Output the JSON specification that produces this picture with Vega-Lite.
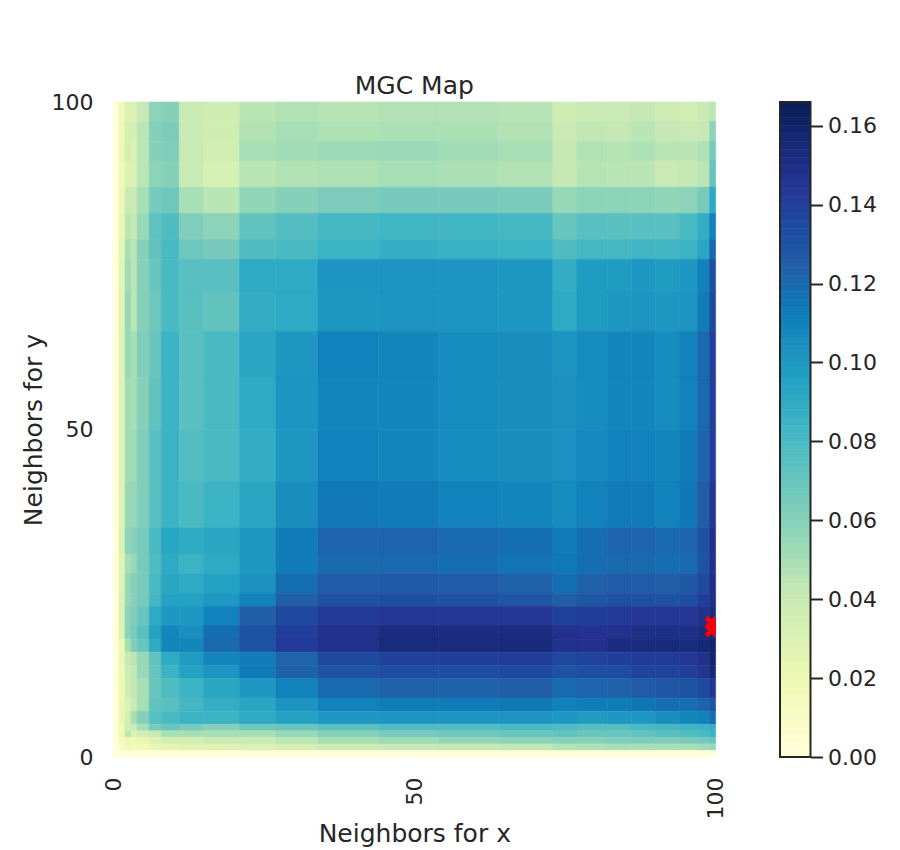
{"$schema":"https://vega.github.io/schema/vega-lite/v6.json","background":"white","padding":{"left":21,"top":74,"right":5,"bottom":5},"config":{"font":"DejaVu Sans","view":{"stroke":null},"axis":{"grid":false,"domain":false,"labelColor":"#262626","titleColor":"#262626","labelFont":"DejaVu Sans","titleFont":"DejaVu Sans","labelFontSize":22,"titleFontSize":25,"titleFontWeight":"normal"},"title":{"font":"DejaVu Sans","fontSize":25,"fontWeight":"normal","color":"#262626"}},"spacing":52,"hconcat":[{"width":602.6,"height":655,"title":{"text":"MGC Map","offset":-8},"layer":[{"data":{"values":[
{"x":0,"X":1,"y":97,"Y":100,"v":0},{"x":1,"X":2,"y":97,"Y":100,"v":0.018},{"x":2,"X":3,"y":97,"Y":100,"v":0.03},{"x":3,"X":4,"y":97,"Y":100,"v":0.03},{"x":4,"X":6,"y":97,"Y":100,"v":0.04},{"x":6,"X":8,"y":97,"Y":100,"v":0.058},{"x":8,"X":11,"y":97,"Y":100,"v":0.06},{"x":11,"X":15,"y":97,"Y":100,"v":0.04},{"x":15,"X":21,"y":97,"Y":100,"v":0.037},{"x":21,"X":27,"y":97,"Y":100,"v":0.045},{"x":27,"X":34,"y":97,"Y":100,"v":0.047},{"x":34,"X":44,"y":97,"Y":100,"v":0.046},{"x":44,"X":54,"y":97,"Y":100,"v":0.047},{"x":54,"X":64,"y":97,"Y":100,"v":0.047},{"x":64,"X":73,"y":97,"Y":100,"v":0.046},{"x":73,"X":77,"y":97,"Y":100,"v":0.037},{"x":77,"X":82,"y":97,"Y":100,"v":0.04},{"x":82,"X":86,"y":97,"Y":100,"v":0.04},{"x":86,"X":90,"y":97,"Y":100,"v":0.042},{"x":90,"X":94,"y":97,"Y":100,"v":0.038},{"x":94,"X":97,"y":97,"Y":100,"v":0.036},{"x":97,"X":99,"y":97,"Y":100,"v":0.04},{"x":99,"X":100,"y":97,"Y":100,"v":0.045},
{"x":0,"X":1,"y":94,"Y":97,"v":0},{"x":1,"X":2,"y":94,"Y":97,"v":0.02},{"x":2,"X":3,"y":94,"Y":97,"v":0.034},{"x":3,"X":4,"y":94,"Y":97,"v":0.034},{"x":4,"X":6,"y":94,"Y":97,"v":0.045},{"x":6,"X":8,"y":94,"Y":97,"v":0.06},{"x":8,"X":11,"y":94,"Y":97,"v":0.063},{"x":11,"X":15,"y":94,"Y":97,"v":0.04},{"x":15,"X":21,"y":94,"Y":97,"v":0.037},{"x":21,"X":27,"y":94,"Y":97,"v":0.047},{"x":27,"X":34,"y":94,"Y":97,"v":0.05},{"x":34,"X":44,"y":94,"Y":97,"v":0.048},{"x":44,"X":54,"y":94,"Y":97,"v":0.049},{"x":54,"X":64,"y":94,"Y":97,"v":0.049},{"x":64,"X":73,"y":94,"Y":97,"v":0.047},{"x":73,"X":77,"y":94,"Y":97,"v":0.04},{"x":77,"X":82,"y":94,"Y":97,"v":0.043},{"x":82,"X":86,"y":94,"Y":97,"v":0.042},{"x":86,"X":90,"y":94,"Y":97,"v":0.045},{"x":90,"X":94,"y":94,"Y":97,"v":0.042},{"x":94,"X":97,"y":94,"Y":97,"v":0.04},{"x":97,"X":99,"y":94,"Y":97,"v":0.042},{"x":99,"X":100,"y":94,"Y":97,"v":0.058},
{"x":0,"X":1,"y":91,"Y":94,"v":0},{"x":1,"X":2,"y":91,"Y":94,"v":0.02},{"x":2,"X":3,"y":91,"Y":94,"v":0.035},{"x":3,"X":4,"y":91,"Y":94,"v":0.03},{"x":4,"X":6,"y":91,"Y":94,"v":0.045},{"x":6,"X":8,"y":91,"Y":94,"v":0.06},{"x":8,"X":11,"y":91,"Y":94,"v":0.062},{"x":11,"X":15,"y":91,"Y":94,"v":0.04},{"x":15,"X":21,"y":91,"Y":94,"v":0.036},{"x":21,"X":27,"y":91,"Y":94,"v":0.05},{"x":27,"X":34,"y":91,"Y":94,"v":0.052},{"x":34,"X":44,"y":91,"Y":94,"v":0.053},{"x":44,"X":54,"y":91,"Y":94,"v":0.054},{"x":54,"X":64,"y":91,"Y":94,"v":0.052},{"x":64,"X":73,"y":91,"Y":94,"v":0.05},{"x":73,"X":77,"y":91,"Y":94,"v":0.042},{"x":77,"X":82,"y":91,"Y":94,"v":0.047},{"x":82,"X":86,"y":91,"Y":94,"v":0.046},{"x":86,"X":90,"y":91,"Y":94,"v":0.048},{"x":90,"X":94,"y":91,"Y":94,"v":0.045},{"x":94,"X":97,"y":91,"Y":94,"v":0.045},{"x":97,"X":99,"y":91,"Y":94,"v":0.048},{"x":99,"X":100,"y":91,"Y":94,"v":0.065},
{"x":0,"X":1,"y":87,"Y":91,"v":0},{"x":1,"X":2,"y":87,"Y":91,"v":0.018},{"x":2,"X":3,"y":87,"Y":91,"v":0.03},{"x":3,"X":4,"y":87,"Y":91,"v":0.03},{"x":4,"X":6,"y":87,"Y":91,"v":0.045},{"x":6,"X":8,"y":87,"Y":91,"v":0.058},{"x":8,"X":11,"y":87,"Y":91,"v":0.06},{"x":11,"X":15,"y":87,"Y":91,"v":0.04},{"x":15,"X":21,"y":87,"Y":91,"v":0.033},{"x":21,"X":27,"y":87,"Y":91,"v":0.045},{"x":27,"X":34,"y":87,"Y":91,"v":0.047},{"x":34,"X":44,"y":87,"Y":91,"v":0.048},{"x":44,"X":54,"y":87,"Y":91,"v":0.05},{"x":54,"X":64,"y":87,"Y":91,"v":0.049},{"x":64,"X":73,"y":87,"Y":91,"v":0.047},{"x":73,"X":77,"y":87,"Y":91,"v":0.042},{"x":77,"X":82,"y":87,"Y":91,"v":0.046},{"x":82,"X":86,"y":87,"Y":91,"v":0.045},{"x":86,"X":90,"y":87,"Y":91,"v":0.045},{"x":90,"X":94,"y":87,"Y":91,"v":0.04},{"x":94,"X":97,"y":87,"Y":91,"v":0.042},{"x":97,"X":99,"y":87,"Y":91,"v":0.045},{"x":99,"X":100,"y":87,"Y":91,"v":0.07},
{"x":0,"X":1,"y":83,"Y":87,"v":0},{"x":1,"X":2,"y":83,"Y":87,"v":0.02},{"x":2,"X":3,"y":83,"Y":87,"v":0.04},{"x":3,"X":4,"y":83,"Y":87,"v":0.04},{"x":4,"X":6,"y":83,"Y":87,"v":0.05},{"x":6,"X":8,"y":83,"Y":87,"v":0.065},{"x":8,"X":11,"y":83,"Y":87,"v":0.068},{"x":11,"X":15,"y":83,"Y":87,"v":0.05},{"x":15,"X":21,"y":83,"Y":87,"v":0.045},{"x":21,"X":27,"y":83,"Y":87,"v":0.056},{"x":27,"X":34,"y":83,"Y":87,"v":0.06},{"x":34,"X":44,"y":83,"Y":87,"v":0.063},{"x":44,"X":54,"y":83,"Y":87,"v":0.065},{"x":54,"X":64,"y":83,"Y":87,"v":0.065},{"x":64,"X":73,"y":83,"Y":87,"v":0.064},{"x":73,"X":77,"y":83,"Y":87,"v":0.055},{"x":77,"X":82,"y":83,"Y":87,"v":0.058},{"x":82,"X":86,"y":83,"Y":87,"v":0.058},{"x":86,"X":90,"y":83,"Y":87,"v":0.058},{"x":90,"X":94,"y":83,"Y":87,"v":0.056},{"x":94,"X":97,"y":83,"Y":87,"v":0.058},{"x":97,"X":99,"y":83,"Y":87,"v":0.065},{"x":99,"X":100,"y":83,"Y":87,"v":0.09},
{"x":0,"X":1,"y":79,"Y":83,"v":0},{"x":1,"X":2,"y":79,"Y":83,"v":0.022},{"x":2,"X":3,"y":79,"Y":83,"v":0.045},{"x":3,"X":4,"y":79,"Y":83,"v":0.042},{"x":4,"X":6,"y":79,"Y":83,"v":0.055},{"x":6,"X":8,"y":79,"Y":83,"v":0.073},{"x":8,"X":11,"y":79,"Y":83,"v":0.078},{"x":11,"X":15,"y":79,"Y":83,"v":0.062},{"x":15,"X":21,"y":79,"Y":83,"v":0.058},{"x":21,"X":27,"y":79,"Y":83,"v":0.072},{"x":27,"X":34,"y":79,"Y":83,"v":0.077},{"x":34,"X":44,"y":79,"Y":83,"v":0.082},{"x":44,"X":54,"y":79,"Y":83,"v":0.083},{"x":54,"X":64,"y":79,"Y":83,"v":0.083},{"x":64,"X":73,"y":79,"Y":83,"v":0.082},{"x":73,"X":77,"y":79,"Y":83,"v":0.07},{"x":77,"X":82,"y":79,"Y":83,"v":0.075},{"x":82,"X":86,"y":79,"Y":83,"v":0.074},{"x":86,"X":90,"y":79,"Y":83,"v":0.075},{"x":90,"X":94,"y":79,"Y":83,"v":0.075},{"x":94,"X":97,"y":79,"Y":83,"v":0.08},{"x":97,"X":99,"y":79,"Y":83,"v":0.088},{"x":99,"X":100,"y":79,"Y":83,"v":0.11},
{"x":0,"X":1,"y":76,"Y":79,"v":0},{"x":1,"X":2,"y":76,"Y":79,"v":0.025},{"x":2,"X":3,"y":76,"Y":79,"v":0.05},{"x":3,"X":4,"y":76,"Y":79,"v":0.045},{"x":4,"X":6,"y":76,"Y":79,"v":0.06},{"x":6,"X":8,"y":76,"Y":79,"v":0.072},{"x":8,"X":11,"y":76,"Y":79,"v":0.08},{"x":11,"X":15,"y":76,"Y":79,"v":0.068},{"x":15,"X":21,"y":76,"Y":79,"v":0.065},{"x":21,"X":27,"y":76,"Y":79,"v":0.078},{"x":27,"X":34,"y":76,"Y":79,"v":0.08},{"x":34,"X":44,"y":76,"Y":79,"v":0.085},{"x":44,"X":54,"y":76,"Y":79,"v":0.087},{"x":54,"X":64,"y":76,"Y":79,"v":0.086},{"x":64,"X":73,"y":76,"Y":79,"v":0.085},{"x":73,"X":77,"y":76,"Y":79,"v":0.078},{"x":77,"X":82,"y":76,"Y":79,"v":0.082},{"x":82,"X":86,"y":76,"Y":79,"v":0.082},{"x":86,"X":90,"y":76,"Y":79,"v":0.083},{"x":90,"X":94,"y":76,"Y":79,"v":0.083},{"x":94,"X":97,"y":76,"Y":79,"v":0.085},{"x":97,"X":99,"y":76,"Y":79,"v":0.092},{"x":99,"X":100,"y":76,"Y":79,"v":0.12},
{"x":0,"X":1,"y":71,"Y":76,"v":0},{"x":1,"X":2,"y":71,"Y":76,"v":0.026},{"x":2,"X":3,"y":71,"Y":76,"v":0.052},{"x":3,"X":4,"y":71,"Y":76,"v":0.045},{"x":4,"X":6,"y":71,"Y":76,"v":0.06},{"x":6,"X":8,"y":71,"Y":76,"v":0.07},{"x":8,"X":11,"y":71,"Y":76,"v":0.08},{"x":11,"X":15,"y":71,"Y":76,"v":0.075},{"x":15,"X":21,"y":71,"Y":76,"v":0.075},{"x":21,"X":27,"y":71,"Y":76,"v":0.09},{"x":27,"X":34,"y":71,"Y":76,"v":0.09},{"x":34,"X":44,"y":71,"Y":76,"v":0.102},{"x":44,"X":54,"y":71,"Y":76,"v":0.102},{"x":54,"X":64,"y":71,"Y":76,"v":0.102},{"x":64,"X":73,"y":71,"Y":76,"v":0.1},{"x":73,"X":77,"y":71,"Y":76,"v":0.088},{"x":77,"X":82,"y":71,"Y":76,"v":0.098},{"x":82,"X":86,"y":71,"Y":76,"v":0.098},{"x":86,"X":90,"y":71,"Y":76,"v":0.1},{"x":90,"X":94,"y":71,"Y":76,"v":0.098},{"x":94,"X":97,"y":71,"Y":76,"v":0.1},{"x":97,"X":99,"y":71,"Y":76,"v":0.11},{"x":99,"X":100,"y":71,"Y":76,"v":0.132},
{"x":0,"X":1,"y":65,"Y":71,"v":0},{"x":1,"X":2,"y":65,"Y":71,"v":0.027},{"x":2,"X":3,"y":65,"Y":71,"v":0.055},{"x":3,"X":4,"y":65,"Y":71,"v":0.045},{"x":4,"X":6,"y":65,"Y":71,"v":0.06},{"x":6,"X":8,"y":65,"Y":71,"v":0.068},{"x":8,"X":11,"y":65,"Y":71,"v":0.08},{"x":11,"X":15,"y":65,"Y":71,"v":0.075},{"x":15,"X":21,"y":65,"Y":71,"v":0.072},{"x":21,"X":27,"y":65,"Y":71,"v":0.088},{"x":27,"X":34,"y":65,"Y":71,"v":0.09},{"x":34,"X":44,"y":65,"Y":71,"v":0.1},{"x":44,"X":54,"y":65,"Y":71,"v":0.102},{"x":54,"X":64,"y":65,"Y":71,"v":0.102},{"x":64,"X":73,"y":65,"Y":71,"v":0.1},{"x":73,"X":77,"y":65,"Y":71,"v":0.09},{"x":77,"X":82,"y":65,"Y":71,"v":0.098},{"x":82,"X":86,"y":65,"Y":71,"v":0.1},{"x":86,"X":90,"y":65,"Y":71,"v":0.102},{"x":90,"X":94,"y":65,"Y":71,"v":0.1},{"x":94,"X":97,"y":65,"Y":71,"v":0.102},{"x":97,"X":99,"y":65,"Y":71,"v":0.112},{"x":99,"X":100,"y":65,"Y":71,"v":0.135},
{"x":0,"X":1,"y":58,"Y":65,"v":0},{"x":1,"X":2,"y":58,"Y":65,"v":0.028},{"x":2,"X":3,"y":58,"Y":65,"v":0.055},{"x":3,"X":4,"y":58,"Y":65,"v":0.05},{"x":4,"X":6,"y":58,"Y":65,"v":0.062},{"x":6,"X":8,"y":58,"Y":65,"v":0.07},{"x":8,"X":11,"y":58,"Y":65,"v":0.085},{"x":11,"X":15,"y":58,"Y":65,"v":0.075},{"x":15,"X":21,"y":58,"Y":65,"v":0.08},{"x":21,"X":27,"y":58,"Y":65,"v":0.092},{"x":27,"X":34,"y":58,"Y":65,"v":0.1},{"x":34,"X":44,"y":58,"Y":65,"v":0.11},{"x":44,"X":54,"y":58,"Y":65,"v":0.108},{"x":54,"X":64,"y":58,"Y":65,"v":0.106},{"x":64,"X":73,"y":58,"Y":65,"v":0.105},{"x":73,"X":77,"y":58,"Y":65,"v":0.102},{"x":77,"X":82,"y":58,"Y":65,"v":0.106},{"x":82,"X":86,"y":58,"Y":65,"v":0.108},{"x":86,"X":90,"y":58,"Y":65,"v":0.108},{"x":90,"X":94,"y":58,"Y":65,"v":0.106},{"x":94,"X":97,"y":58,"Y":65,"v":0.11},{"x":97,"X":99,"y":58,"Y":65,"v":0.12},{"x":99,"X":100,"y":58,"Y":65,"v":0.14},
{"x":0,"X":1,"y":50,"Y":58,"v":0},{"x":1,"X":2,"y":50,"Y":58,"v":0.028},{"x":2,"X":3,"y":50,"Y":58,"v":0.052},{"x":3,"X":4,"y":50,"Y":58,"v":0.05},{"x":4,"X":6,"y":50,"Y":58,"v":0.06},{"x":6,"X":8,"y":50,"Y":58,"v":0.072},{"x":8,"X":11,"y":50,"Y":58,"v":0.085},{"x":11,"X":15,"y":50,"Y":58,"v":0.075},{"x":15,"X":21,"y":50,"Y":58,"v":0.08},{"x":21,"X":27,"y":50,"Y":58,"v":0.09},{"x":27,"X":34,"y":50,"Y":58,"v":0.102},{"x":34,"X":44,"y":50,"Y":58,"v":0.108},{"x":44,"X":54,"y":50,"Y":58,"v":0.108},{"x":54,"X":64,"y":50,"Y":58,"v":0.106},{"x":64,"X":73,"y":50,"Y":58,"v":0.105},{"x":73,"X":77,"y":50,"Y":58,"v":0.104},{"x":77,"X":82,"y":50,"Y":58,"v":0.106},{"x":82,"X":86,"y":50,"Y":58,"v":0.108},{"x":86,"X":90,"y":50,"Y":58,"v":0.108},{"x":90,"X":94,"y":50,"Y":58,"v":0.106},{"x":94,"X":97,"y":50,"Y":58,"v":0.11},{"x":97,"X":99,"y":50,"Y":58,"v":0.12},{"x":99,"X":100,"y":50,"Y":58,"v":0.14},
{"x":0,"X":1,"y":42,"Y":50,"v":0},{"x":1,"X":2,"y":42,"Y":50,"v":0.028},{"x":2,"X":3,"y":42,"Y":50,"v":0.052},{"x":3,"X":4,"y":42,"Y":50,"v":0.052},{"x":4,"X":6,"y":42,"Y":50,"v":0.062},{"x":6,"X":8,"y":42,"Y":50,"v":0.075},{"x":8,"X":11,"y":42,"Y":50,"v":0.085},{"x":11,"X":15,"y":42,"Y":50,"v":0.077},{"x":15,"X":21,"y":42,"Y":50,"v":0.08},{"x":21,"X":27,"y":42,"Y":50,"v":0.088},{"x":27,"X":34,"y":42,"Y":50,"v":0.1},{"x":34,"X":44,"y":42,"Y":50,"v":0.11},{"x":44,"X":54,"y":42,"Y":50,"v":0.108},{"x":54,"X":64,"y":42,"Y":50,"v":0.106},{"x":64,"X":73,"y":42,"Y":50,"v":0.105},{"x":73,"X":77,"y":42,"Y":50,"v":0.104},{"x":77,"X":82,"y":42,"Y":50,"v":0.107},{"x":82,"X":86,"y":42,"Y":50,"v":0.11},{"x":86,"X":90,"y":42,"Y":50,"v":0.11},{"x":90,"X":94,"y":42,"Y":50,"v":0.108},{"x":94,"X":97,"y":42,"Y":50,"v":0.112},{"x":97,"X":99,"y":42,"Y":50,"v":0.122},{"x":99,"X":100,"y":42,"Y":50,"v":0.14},
{"x":0,"X":1,"y":35,"Y":42,"v":0},{"x":1,"X":2,"y":35,"Y":42,"v":0.028},{"x":2,"X":3,"y":35,"Y":42,"v":0.055},{"x":3,"X":4,"y":35,"Y":42,"v":0.055},{"x":4,"X":6,"y":35,"Y":42,"v":0.062},{"x":6,"X":8,"y":35,"Y":42,"v":0.075},{"x":8,"X":11,"y":35,"Y":42,"v":0.085},{"x":11,"X":15,"y":35,"Y":42,"v":0.08},{"x":15,"X":21,"y":35,"Y":42,"v":0.085},{"x":21,"X":27,"y":35,"Y":42,"v":0.092},{"x":27,"X":34,"y":35,"Y":42,"v":0.105},{"x":34,"X":44,"y":35,"Y":42,"v":0.114},{"x":44,"X":54,"y":35,"Y":42,"v":0.113},{"x":54,"X":64,"y":35,"Y":42,"v":0.11},{"x":64,"X":73,"y":35,"Y":42,"v":0.108},{"x":73,"X":77,"y":35,"Y":42,"v":0.106},{"x":77,"X":82,"y":35,"Y":42,"v":0.11},{"x":82,"X":86,"y":35,"Y":42,"v":0.113},{"x":86,"X":90,"y":35,"Y":42,"v":0.113},{"x":90,"X":94,"y":35,"Y":42,"v":0.11},{"x":94,"X":97,"y":35,"Y":42,"v":0.115},{"x":97,"X":99,"y":35,"Y":42,"v":0.125},{"x":99,"X":100,"y":35,"Y":42,"v":0.145},
{"x":0,"X":1,"y":31,"Y":35,"v":0},{"x":1,"X":2,"y":31,"Y":35,"v":0.03},{"x":2,"X":3,"y":31,"Y":35,"v":0.058},{"x":3,"X":4,"y":31,"Y":35,"v":0.06},{"x":4,"X":6,"y":31,"Y":35,"v":0.065},{"x":6,"X":8,"y":31,"Y":35,"v":0.08},{"x":8,"X":11,"y":31,"Y":35,"v":0.093},{"x":11,"X":15,"y":31,"Y":35,"v":0.09},{"x":15,"X":21,"y":31,"Y":35,"v":0.092},{"x":21,"X":27,"y":31,"Y":35,"v":0.1},{"x":27,"X":34,"y":31,"Y":35,"v":0.112},{"x":34,"X":44,"y":31,"Y":35,"v":0.122},{"x":44,"X":54,"y":31,"Y":35,"v":0.122},{"x":54,"X":64,"y":31,"Y":35,"v":0.12},{"x":64,"X":73,"y":31,"Y":35,"v":0.118},{"x":73,"X":77,"y":31,"Y":35,"v":0.112},{"x":77,"X":82,"y":31,"Y":35,"v":0.118},{"x":82,"X":86,"y":31,"Y":35,"v":0.122},{"x":86,"X":90,"y":31,"Y":35,"v":0.122},{"x":90,"X":94,"y":31,"Y":35,"v":0.12},{"x":94,"X":97,"y":31,"Y":35,"v":0.122},{"x":97,"X":99,"y":31,"Y":35,"v":0.13},{"x":99,"X":100,"y":31,"Y":35,"v":0.148},
{"x":0,"X":1,"y":28,"Y":31,"v":0},{"x":1,"X":2,"y":28,"Y":31,"v":0.028},{"x":2,"X":3,"y":28,"Y":31,"v":0.05},{"x":3,"X":4,"y":28,"Y":31,"v":0.055},{"x":4,"X":6,"y":28,"Y":31,"v":0.065},{"x":6,"X":8,"y":28,"Y":31,"v":0.078},{"x":8,"X":11,"y":28,"Y":31,"v":0.09},{"x":11,"X":15,"y":28,"Y":31,"v":0.085},{"x":15,"X":21,"y":28,"Y":31,"v":0.09},{"x":21,"X":27,"y":28,"Y":31,"v":0.1},{"x":27,"X":34,"y":28,"Y":31,"v":0.112},{"x":34,"X":44,"y":28,"Y":31,"v":0.12},{"x":44,"X":54,"y":28,"Y":31,"v":0.12},{"x":54,"X":64,"y":28,"Y":31,"v":0.118},{"x":64,"X":73,"y":28,"Y":31,"v":0.116},{"x":73,"X":77,"y":28,"Y":31,"v":0.114},{"x":77,"X":82,"y":28,"Y":31,"v":0.118},{"x":82,"X":86,"y":28,"Y":31,"v":0.12},{"x":86,"X":90,"y":28,"Y":31,"v":0.12},{"x":90,"X":94,"y":28,"Y":31,"v":0.118},{"x":94,"X":97,"y":28,"Y":31,"v":0.12},{"x":97,"X":99,"y":28,"Y":31,"v":0.13},{"x":99,"X":100,"y":28,"Y":31,"v":0.148},
{"x":0,"X":1,"y":25,"Y":28,"v":0},{"x":1,"X":2,"y":25,"Y":28,"v":0.028},{"x":2,"X":3,"y":25,"Y":28,"v":0.055},{"x":3,"X":4,"y":25,"Y":28,"v":0.06},{"x":4,"X":6,"y":25,"Y":28,"v":0.065},{"x":6,"X":8,"y":25,"Y":28,"v":0.08},{"x":8,"X":11,"y":25,"Y":28,"v":0.092},{"x":11,"X":15,"y":25,"Y":28,"v":0.09},{"x":15,"X":21,"y":25,"Y":28,"v":0.095},{"x":21,"X":27,"y":25,"Y":28,"v":0.103},{"x":27,"X":34,"y":25,"Y":28,"v":0.118},{"x":34,"X":44,"y":25,"Y":28,"v":0.126},{"x":44,"X":54,"y":25,"Y":28,"v":0.127},{"x":54,"X":64,"y":25,"Y":28,"v":0.126},{"x":64,"X":73,"y":25,"Y":28,"v":0.123},{"x":73,"X":77,"y":25,"Y":28,"v":0.118},{"x":77,"X":82,"y":25,"Y":28,"v":0.123},{"x":82,"X":86,"y":25,"Y":28,"v":0.126},{"x":86,"X":90,"y":25,"Y":28,"v":0.126},{"x":90,"X":94,"y":25,"Y":28,"v":0.125},{"x":94,"X":97,"y":25,"Y":28,"v":0.128},{"x":97,"X":99,"y":25,"Y":28,"v":0.135},{"x":99,"X":100,"y":25,"Y":28,"v":0.15},
{"x":0,"X":1,"y":23,"Y":25,"v":0},{"x":1,"X":2,"y":23,"Y":25,"v":0.03},{"x":2,"X":3,"y":23,"Y":25,"v":0.055},{"x":3,"X":4,"y":23,"Y":25,"v":0.06},{"x":4,"X":6,"y":23,"Y":25,"v":0.065},{"x":6,"X":8,"y":23,"Y":25,"v":0.082},{"x":8,"X":11,"y":23,"Y":25,"v":0.095},{"x":11,"X":15,"y":23,"Y":25,"v":0.095},{"x":15,"X":21,"y":23,"Y":25,"v":0.1},{"x":21,"X":27,"y":23,"Y":25,"v":0.11},{"x":27,"X":34,"y":23,"Y":25,"v":0.124},{"x":34,"X":44,"y":23,"Y":25,"v":0.131},{"x":44,"X":54,"y":23,"Y":25,"v":0.132},{"x":54,"X":64,"y":23,"Y":25,"v":0.131},{"x":64,"X":73,"y":23,"Y":25,"v":0.129},{"x":73,"X":77,"y":23,"Y":25,"v":0.124},{"x":77,"X":82,"y":23,"Y":25,"v":0.128},{"x":82,"X":86,"y":23,"Y":25,"v":0.131},{"x":86,"X":90,"y":23,"Y":25,"v":0.131},{"x":90,"X":94,"y":23,"Y":25,"v":0.13},{"x":94,"X":97,"y":23,"Y":25,"v":0.133},{"x":97,"X":99,"y":23,"Y":25,"v":0.14},{"x":99,"X":100,"y":23,"Y":25,"v":0.15},
{"x":0,"X":1,"y":20,"Y":23,"v":0},{"x":1,"X":2,"y":20,"Y":23,"v":0.03},{"x":2,"X":3,"y":20,"Y":23,"v":0.058},{"x":3,"X":4,"y":20,"Y":23,"v":0.062},{"x":4,"X":6,"y":20,"Y":23,"v":0.07},{"x":6,"X":8,"y":20,"Y":23,"v":0.09},{"x":8,"X":11,"y":20,"Y":23,"v":0.1},{"x":11,"X":15,"y":20,"Y":23,"v":0.1},{"x":15,"X":21,"y":20,"Y":23,"v":0.11},{"x":21,"X":27,"y":20,"Y":23,"v":0.124},{"x":27,"X":34,"y":20,"Y":23,"v":0.136},{"x":34,"X":44,"y":20,"Y":23,"v":0.143},{"x":44,"X":54,"y":20,"Y":23,"v":0.144},{"x":54,"X":64,"y":20,"Y":23,"v":0.145},{"x":64,"X":73,"y":20,"Y":23,"v":0.144},{"x":73,"X":77,"y":20,"Y":23,"v":0.139},{"x":77,"X":82,"y":20,"Y":23,"v":0.14},{"x":82,"X":86,"y":20,"Y":23,"v":0.143},{"x":86,"X":90,"y":20,"Y":23,"v":0.144},{"x":90,"X":94,"y":20,"Y":23,"v":0.144},{"x":94,"X":97,"y":20,"Y":23,"v":0.145},{"x":97,"X":99,"y":20,"Y":23,"v":0.148},{"x":99,"X":100,"y":20,"Y":23,"v":0.153},
{"x":0,"X":1,"y":18,"Y":20,"v":0},{"x":1,"X":2,"y":18,"Y":20,"v":0.028},{"x":2,"X":3,"y":18,"Y":20,"v":0.058},{"x":3,"X":4,"y":18,"Y":20,"v":0.065},{"x":4,"X":6,"y":18,"Y":20,"v":0.075},{"x":6,"X":8,"y":18,"Y":20,"v":0.095},{"x":8,"X":11,"y":18,"Y":20,"v":0.108},{"x":11,"X":15,"y":18,"Y":20,"v":0.105},{"x":15,"X":21,"y":18,"Y":20,"v":0.118},{"x":21,"X":27,"y":18,"Y":20,"v":0.13},{"x":27,"X":34,"y":18,"Y":20,"v":0.14},{"x":34,"X":44,"y":18,"Y":20,"v":0.148},{"x":44,"X":54,"y":18,"Y":20,"v":0.152},{"x":54,"X":64,"y":18,"Y":20,"v":0.152},{"x":64,"X":73,"y":18,"Y":20,"v":0.152},{"x":73,"X":77,"y":18,"Y":20,"v":0.148},{"x":77,"X":82,"y":18,"Y":20,"v":0.146},{"x":82,"X":86,"y":18,"Y":20,"v":0.148},{"x":86,"X":90,"y":18,"Y":20,"v":0.15},{"x":90,"X":94,"y":18,"Y":20,"v":0.15},{"x":94,"X":97,"y":18,"Y":20,"v":0.15},{"x":97,"X":99,"y":18,"Y":20,"v":0.152},{"x":99,"X":100,"y":18,"Y":20,"v":0.155},
{"x":0,"X":1,"y":16,"Y":18,"v":0},{"x":1,"X":2,"y":16,"Y":18,"v":0.02},{"x":2,"X":3,"y":16,"Y":18,"v":0.05},{"x":3,"X":4,"y":16,"Y":18,"v":0.062},{"x":4,"X":6,"y":16,"Y":18,"v":0.07},{"x":6,"X":8,"y":16,"Y":18,"v":0.09},{"x":8,"X":11,"y":16,"Y":18,"v":0.108},{"x":11,"X":15,"y":16,"Y":18,"v":0.108},{"x":15,"X":21,"y":16,"Y":18,"v":0.12},{"x":21,"X":27,"y":16,"Y":18,"v":0.13},{"x":27,"X":34,"y":16,"Y":18,"v":0.142},{"x":34,"X":44,"y":16,"Y":18,"v":0.148},{"x":44,"X":54,"y":16,"Y":18,"v":0.153},{"x":54,"X":64,"y":16,"Y":18,"v":0.153},{"x":64,"X":73,"y":16,"Y":18,"v":0.154},{"x":73,"X":77,"y":16,"Y":18,"v":0.148},{"x":77,"X":82,"y":16,"Y":18,"v":0.148},{"x":82,"X":86,"y":16,"Y":18,"v":0.152},{"x":86,"X":90,"y":16,"Y":18,"v":0.153},{"x":90,"X":94,"y":16,"Y":18,"v":0.154},{"x":94,"X":97,"y":16,"Y":18,"v":0.153},{"x":97,"X":99,"y":16,"Y":18,"v":0.155},{"x":99,"X":100,"y":16,"Y":18,"v":0.16},
{"x":0,"X":1,"y":14,"Y":16,"v":0},{"x":1,"X":2,"y":14,"Y":16,"v":0.022},{"x":2,"X":3,"y":14,"Y":16,"v":0.04},{"x":3,"X":4,"y":14,"Y":16,"v":0.045},{"x":4,"X":6,"y":14,"Y":16,"v":0.055},{"x":6,"X":8,"y":14,"Y":16,"v":0.072},{"x":8,"X":11,"y":14,"Y":16,"v":0.09},{"x":11,"X":15,"y":14,"Y":16,"v":0.098},{"x":15,"X":21,"y":14,"Y":16,"v":0.108},{"x":21,"X":27,"y":14,"Y":16,"v":0.112},{"x":27,"X":34,"y":14,"Y":16,"v":0.122},{"x":34,"X":44,"y":14,"Y":16,"v":0.135},{"x":44,"X":54,"y":14,"Y":16,"v":0.139},{"x":54,"X":64,"y":14,"Y":16,"v":0.14},{"x":64,"X":73,"y":14,"Y":16,"v":0.141},{"x":73,"X":77,"y":14,"Y":16,"v":0.136},{"x":77,"X":82,"y":14,"Y":16,"v":0.138},{"x":82,"X":86,"y":14,"Y":16,"v":0.14},{"x":86,"X":90,"y":14,"Y":16,"v":0.142},{"x":90,"X":94,"y":14,"Y":16,"v":0.142},{"x":94,"X":97,"y":14,"Y":16,"v":0.145},{"x":97,"X":99,"y":14,"Y":16,"v":0.148},{"x":99,"X":100,"y":14,"Y":16,"v":0.158},
{"x":0,"X":1,"y":12,"Y":14,"v":0},{"x":1,"X":2,"y":12,"Y":14,"v":0.02},{"x":2,"X":3,"y":12,"Y":14,"v":0.038},{"x":3,"X":4,"y":12,"Y":14,"v":0.042},{"x":4,"X":6,"y":12,"Y":14,"v":0.055},{"x":6,"X":8,"y":12,"Y":14,"v":0.07},{"x":8,"X":11,"y":12,"Y":14,"v":0.085},{"x":11,"X":15,"y":12,"Y":14,"v":0.095},{"x":15,"X":21,"y":12,"Y":14,"v":0.102},{"x":21,"X":27,"y":12,"Y":14,"v":0.113},{"x":27,"X":34,"y":12,"Y":14,"v":0.123},{"x":34,"X":44,"y":12,"Y":14,"v":0.13},{"x":44,"X":54,"y":12,"Y":14,"v":0.133},{"x":54,"X":64,"y":12,"Y":14,"v":0.134},{"x":64,"X":73,"y":12,"Y":14,"v":0.135},{"x":73,"X":77,"y":12,"Y":14,"v":0.13},{"x":77,"X":82,"y":12,"Y":14,"v":0.133},{"x":82,"X":86,"y":12,"Y":14,"v":0.134},{"x":86,"X":90,"y":12,"Y":14,"v":0.138},{"x":90,"X":94,"y":12,"Y":14,"v":0.138},{"x":94,"X":97,"y":12,"Y":14,"v":0.14},{"x":97,"X":99,"y":12,"Y":14,"v":0.145},{"x":99,"X":100,"y":12,"Y":14,"v":0.155},
{"x":0,"X":1,"y":9,"Y":12,"v":0},{"x":1,"X":2,"y":9,"Y":12,"v":0.02},{"x":2,"X":3,"y":9,"Y":12,"v":0.038},{"x":3,"X":4,"y":9,"Y":12,"v":0.042},{"x":4,"X":6,"y":9,"Y":12,"v":0.05},{"x":6,"X":8,"y":9,"Y":12,"v":0.07},{"x":8,"X":11,"y":9,"Y":12,"v":0.078},{"x":11,"X":15,"y":9,"Y":12,"v":0.085},{"x":15,"X":21,"y":9,"Y":12,"v":0.092},{"x":21,"X":27,"y":9,"Y":12,"v":0.1},{"x":27,"X":34,"y":9,"Y":12,"v":0.11},{"x":34,"X":44,"y":9,"Y":12,"v":0.12},{"x":44,"X":54,"y":9,"Y":12,"v":0.123},{"x":54,"X":64,"y":9,"Y":12,"v":0.123},{"x":64,"X":73,"y":9,"Y":12,"v":0.125},{"x":73,"X":77,"y":9,"Y":12,"v":0.12},{"x":77,"X":82,"y":9,"Y":12,"v":0.122},{"x":82,"X":86,"y":9,"Y":12,"v":0.123},{"x":86,"X":90,"y":9,"Y":12,"v":0.126},{"x":90,"X":94,"y":9,"Y":12,"v":0.128},{"x":94,"X":97,"y":9,"Y":12,"v":0.13},{"x":97,"X":99,"y":9,"Y":12,"v":0.135},{"x":99,"X":100,"y":9,"Y":12,"v":0.145},
{"x":0,"X":1,"y":7,"Y":9,"v":0},{"x":1,"X":2,"y":7,"Y":9,"v":0.02},{"x":2,"X":3,"y":7,"Y":9,"v":0.03},{"x":3,"X":4,"y":7,"Y":9,"v":0.04},{"x":4,"X":6,"y":7,"Y":9,"v":0.05},{"x":6,"X":8,"y":7,"Y":9,"v":0.072},{"x":8,"X":11,"y":7,"Y":9,"v":0.075},{"x":11,"X":15,"y":7,"Y":9,"v":0.082},{"x":15,"X":21,"y":7,"Y":9,"v":0.088},{"x":21,"X":27,"y":7,"Y":9,"v":0.092},{"x":27,"X":34,"y":7,"Y":9,"v":0.102},{"x":34,"X":44,"y":7,"Y":9,"v":0.11},{"x":44,"X":54,"y":7,"Y":9,"v":0.112},{"x":54,"X":64,"y":7,"Y":9,"v":0.113},{"x":64,"X":73,"y":7,"Y":9,"v":0.114},{"x":73,"X":77,"y":7,"Y":9,"v":0.11},{"x":77,"X":82,"y":7,"Y":9,"v":0.112},{"x":82,"X":86,"y":7,"Y":9,"v":0.112},{"x":86,"X":90,"y":7,"Y":9,"v":0.115},{"x":90,"X":94,"y":7,"Y":9,"v":0.118},{"x":94,"X":97,"y":7,"Y":9,"v":0.118},{"x":97,"X":99,"y":7,"Y":9,"v":0.122},{"x":99,"X":100,"y":7,"Y":9,"v":0.13},
{"x":0,"X":1,"y":5,"Y":7,"v":0},{"x":1,"X":2,"y":5,"Y":7,"v":0.022},{"x":2,"X":3,"y":5,"Y":7,"v":0.035},{"x":3,"X":4,"y":5,"Y":7,"v":0.05},{"x":4,"X":6,"y":5,"Y":7,"v":0.06},{"x":6,"X":8,"y":5,"Y":7,"v":0.075},{"x":8,"X":11,"y":5,"Y":7,"v":0.08},{"x":11,"X":15,"y":5,"Y":7,"v":0.085},{"x":15,"X":21,"y":5,"Y":7,"v":0.085},{"x":21,"X":27,"y":5,"Y":7,"v":0.09},{"x":27,"X":34,"y":5,"Y":7,"v":0.095},{"x":34,"X":44,"y":5,"Y":7,"v":0.1},{"x":44,"X":54,"y":5,"Y":7,"v":0.102},{"x":54,"X":64,"y":5,"Y":7,"v":0.102},{"x":64,"X":73,"y":5,"Y":7,"v":0.102},{"x":73,"X":77,"y":5,"Y":7,"v":0.1},{"x":77,"X":82,"y":5,"Y":7,"v":0.098},{"x":82,"X":86,"y":5,"Y":7,"v":0.1},{"x":86,"X":90,"y":5,"Y":7,"v":0.1},{"x":90,"X":94,"y":5,"Y":7,"v":0.105},{"x":94,"X":97,"y":5,"Y":7,"v":0.108},{"x":97,"X":99,"y":5,"Y":7,"v":0.11},{"x":99,"X":100,"y":5,"Y":7,"v":0.118},
{"x":0,"X":1,"y":4,"Y":5,"v":0},{"x":1,"X":2,"y":4,"Y":5,"v":0.018},{"x":2,"X":3,"y":4,"Y":5,"v":0.035},{"x":3,"X":4,"y":4,"Y":5,"v":0.04},{"x":4,"X":6,"y":4,"Y":5,"v":0.05},{"x":6,"X":8,"y":4,"Y":5,"v":0.065},{"x":8,"X":11,"y":4,"Y":5,"v":0.07},{"x":11,"X":15,"y":4,"Y":5,"v":0.065},{"x":15,"X":21,"y":4,"Y":5,"v":0.06},{"x":21,"X":27,"y":4,"Y":5,"v":0.068},{"x":27,"X":34,"y":4,"Y":5,"v":0.07},{"x":34,"X":44,"y":4,"Y":5,"v":0.074},{"x":44,"X":54,"y":4,"Y":5,"v":0.078},{"x":54,"X":64,"y":4,"Y":5,"v":0.078},{"x":64,"X":73,"y":4,"Y":5,"v":0.08},{"x":73,"X":77,"y":4,"Y":5,"v":0.078},{"x":77,"X":82,"y":4,"Y":5,"v":0.076},{"x":82,"X":86,"y":4,"Y":5,"v":0.076},{"x":86,"X":90,"y":4,"Y":5,"v":0.08},{"x":90,"X":94,"y":4,"Y":5,"v":0.082},{"x":94,"X":97,"y":4,"Y":5,"v":0.084},{"x":97,"X":99,"y":4,"Y":5,"v":0.085},{"x":99,"X":100,"y":4,"Y":5,"v":0.088},
{"x":0,"X":1,"y":3,"Y":4,"v":0},{"x":1,"X":2,"y":3,"Y":4,"v":0.02},{"x":2,"X":3,"y":3,"Y":4,"v":0.045},{"x":3,"X":4,"y":3,"Y":4,"v":0.03},{"x":4,"X":6,"y":3,"Y":4,"v":0.035},{"x":6,"X":8,"y":3,"Y":4,"v":0.04},{"x":8,"X":11,"y":3,"Y":4,"v":0.05},{"x":11,"X":15,"y":3,"Y":4,"v":0.05},{"x":15,"X":21,"y":3,"Y":4,"v":0.05},{"x":21,"X":27,"y":3,"Y":4,"v":0.05},{"x":27,"X":34,"y":3,"Y":4,"v":0.055},{"x":34,"X":44,"y":3,"Y":4,"v":0.06},{"x":44,"X":54,"y":3,"Y":4,"v":0.065},{"x":54,"X":64,"y":3,"Y":4,"v":0.068},{"x":64,"X":73,"y":3,"Y":4,"v":0.07},{"x":73,"X":77,"y":3,"Y":4,"v":0.072},{"x":77,"X":82,"y":3,"Y":4,"v":0.07},{"x":82,"X":86,"y":3,"Y":4,"v":0.07},{"x":86,"X":90,"y":3,"Y":4,"v":0.072},{"x":90,"X":94,"y":3,"Y":4,"v":0.075},{"x":94,"X":97,"y":3,"Y":4,"v":0.078},{"x":97,"X":99,"y":3,"Y":4,"v":0.08},{"x":99,"X":100,"y":3,"Y":4,"v":0.085},
{"x":0,"X":1,"y":2,"Y":3,"v":0},{"x":1,"X":2,"y":2,"Y":3,"v":0.015},{"x":2,"X":3,"y":2,"Y":3,"v":0.02},{"x":3,"X":4,"y":2,"Y":3,"v":0.02},{"x":4,"X":6,"y":2,"Y":3,"v":0.022},{"x":6,"X":8,"y":2,"Y":3,"v":0.03},{"x":8,"X":11,"y":2,"Y":3,"v":0.035},{"x":11,"X":15,"y":2,"Y":3,"v":0.035},{"x":15,"X":21,"y":2,"Y":3,"v":0.04},{"x":21,"X":27,"y":2,"Y":3,"v":0.04},{"x":27,"X":34,"y":2,"Y":3,"v":0.045},{"x":34,"X":44,"y":2,"Y":3,"v":0.05},{"x":44,"X":54,"y":2,"Y":3,"v":0.053},{"x":54,"X":64,"y":2,"Y":3,"v":0.056},{"x":64,"X":73,"y":2,"Y":3,"v":0.058},{"x":73,"X":77,"y":2,"Y":3,"v":0.06},{"x":77,"X":82,"y":2,"Y":3,"v":0.06},{"x":82,"X":86,"y":2,"Y":3,"v":0.062},{"x":86,"X":90,"y":2,"Y":3,"v":0.063},{"x":90,"X":94,"y":2,"Y":3,"v":0.063},{"x":94,"X":97,"y":2,"Y":3,"v":0.065},{"x":97,"X":99,"y":2,"Y":3,"v":0.067},{"x":99,"X":100,"y":2,"Y":3,"v":0.07},
{"x":0,"X":1,"y":1,"Y":2,"v":0},{"x":1,"X":2,"y":1,"Y":2,"v":0.012},{"x":2,"X":3,"y":1,"Y":2,"v":0.018},{"x":3,"X":4,"y":1,"Y":2,"v":0.016},{"x":4,"X":6,"y":1,"Y":2,"v":0.018},{"x":6,"X":8,"y":1,"Y":2,"v":0.022},{"x":8,"X":11,"y":1,"Y":2,"v":0.025},{"x":11,"X":15,"y":1,"Y":2,"v":0.028},{"x":15,"X":21,"y":1,"Y":2,"v":0.028},{"x":21,"X":27,"y":1,"Y":2,"v":0.03},{"x":27,"X":34,"y":1,"Y":2,"v":0.032},{"x":34,"X":44,"y":1,"Y":2,"v":0.037},{"x":44,"X":54,"y":1,"Y":2,"v":0.04},{"x":54,"X":64,"y":1,"Y":2,"v":0.042},{"x":64,"X":73,"y":1,"Y":2,"v":0.043},{"x":73,"X":77,"y":1,"Y":2,"v":0.047},{"x":77,"X":82,"y":1,"Y":2,"v":0.048},{"x":82,"X":86,"y":1,"Y":2,"v":0.05},{"x":86,"X":90,"y":1,"Y":2,"v":0.05},{"x":90,"X":94,"y":1,"Y":2,"v":0.05},{"x":94,"X":97,"y":1,"Y":2,"v":0.05},{"x":97,"X":99,"y":1,"Y":2,"v":0.052},{"x":99,"X":100,"y":1,"Y":2,"v":0.055},
{"x":0,"X":50,"y":0,"Y":1,"v":0},{"x":50,"X":100,"y":0,"Y":1,"v":0}
]},"mark":{"type":"rect","strokeWidth":0.6},"encoding":{"x":{"field":"x","type":"quantitative","scale":{"domain":[0,100],"nice":false},"axis":{"values":[0,50,100],"tickSize":0,"labelAngle":-90,"labelAlign":"right","labelBaseline":"middle","labelPadding":20,"title":"Neighbors for x","titlePadding":2.5}},"x2":{"field":"X"},"y":{"field":"y","type":"quantitative","scale":{"domain":[0,100],"nice":false},"axis":{"values":[0,50,100],"tickSize":0,"labelPadding":20,"title":"Neighbors for y","titlePadding":4.5}},"y2":{"field":"Y"},"color":{"field":"v","type":"quantitative","legend":null,"scale":{"domain":[0,0.02075,0.0415,0.06225,0.083,0.10375,0.1245,0.14525,0.166],"range":["#ffffd9","#edf8b1","#c7e9b4","#7fcdbb","#41b6c4","#1d91c0","#225ea8","#253494","#081d58"]}},"stroke":{"field":"v","type":"quantitative","legend":null,"scale":{"domain":[0,0.02075,0.0415,0.06225,0.083,0.10375,0.1245,0.14525,0.166],"range":["#ffffd9","#edf8b1","#c7e9b4","#7fcdbb","#41b6c4","#1d91c0","#225ea8","#253494","#081d58"]}}}},{"data":{"values":[{"x":99.3,"y":20.5},{"x":99.3,"y":19.3}]},"mark":{"type":"point","filled":true,"clip":true,"opacity":1,"size":190,"color":"#ff0000","shape":"M-1,-0.5L-0.5,-1L0,-0.5L0.5,-1L1,-0.5L0.5,0L1,0.5L0.5,1L0,0.5L-0.5,1L-1,0.5L-0.5,0Z"},"encoding":{"x":{"field":"x","type":"quantitative"},"y":{"field":"y","type":"quantitative"}}}]},{"width":30.5,"height":655,"layer":[{"data":{"values":[{"c":0,"C":0.002,"v":0.001},{"c":0.002,"C":0.004,"v":0.003},{"c":0.004,"C":0.006,"v":0.005},{"c":0.006,"C":0.008,"v":0.007},{"c":0.008,"C":0.01,"v":0.009},{"c":0.01,"C":0.012,"v":0.011},{"c":0.012,"C":0.014,"v":0.013},{"c":0.014,"C":0.016,"v":0.015},{"c":0.016,"C":0.018,"v":0.017},{"c":0.018,"C":0.02,"v":0.019},{"c":0.02,"C":0.022,"v":0.021},{"c":0.022,"C":0.024,"v":0.023},{"c":0.024,"C":0.026,"v":0.025},{"c":0.026,"C":0.028,"v":0.027},{"c":0.028,"C":0.03,"v":0.029},{"c":0.03,"C":0.032,"v":0.031},{"c":0.032,"C":0.034,"v":0.033},{"c":0.034,"C":0.036,"v":0.035},{"c":0.036,"C":0.038,"v":0.037},{"c":0.038,"C":0.04,"v":0.039},{"c":0.04,"C":0.042,"v":0.041},{"c":0.042,"C":0.044,"v":0.043},{"c":0.044,"C":0.046,"v":0.045},{"c":0.046,"C":0.048,"v":0.047},{"c":0.048,"C":0.05,"v":0.049},{"c":0.05,"C":0.052,"v":0.051},{"c":0.052,"C":0.054,"v":0.053},{"c":0.054,"C":0.056,"v":0.055},{"c":0.056,"C":0.058,"v":0.057},{"c":0.058,"C":0.06,"v":0.059},{"c":0.06,"C":0.062,"v":0.061},{"c":0.062,"C":0.064,"v":0.063},{"c":0.064,"C":0.066,"v":0.065},{"c":0.066,"C":0.068,"v":0.067},{"c":0.068,"C":0.07,"v":0.069},{"c":0.07,"C":0.072,"v":0.071},{"c":0.072,"C":0.074,"v":0.073},{"c":0.074,"C":0.076,"v":0.075},{"c":0.076,"C":0.078,"v":0.077},{"c":0.078,"C":0.08,"v":0.079},{"c":0.08,"C":0.082,"v":0.081},{"c":0.082,"C":0.084,"v":0.083},{"c":0.084,"C":0.086,"v":0.085},{"c":0.086,"C":0.088,"v":0.087},{"c":0.088,"C":0.09,"v":0.089},{"c":0.09,"C":0.092,"v":0.091},{"c":0.092,"C":0.094,"v":0.093},{"c":0.094,"C":0.096,"v":0.095},{"c":0.096,"C":0.098,"v":0.097},{"c":0.098,"C":0.1,"v":0.099},{"c":0.1,"C":0.102,"v":0.101},{"c":0.102,"C":0.104,"v":0.103},{"c":0.104,"C":0.106,"v":0.105},{"c":0.106,"C":0.108,"v":0.107},{"c":0.108,"C":0.11,"v":0.109},{"c":0.11,"C":0.112,"v":0.111},{"c":0.112,"C":0.114,"v":0.113},{"c":0.114,"C":0.116,"v":0.115},{"c":0.116,"C":0.118,"v":0.117},{"c":0.118,"C":0.12,"v":0.119},{"c":0.12,"C":0.122,"v":0.121},{"c":0.122,"C":0.124,"v":0.123},{"c":0.124,"C":0.126,"v":0.125},{"c":0.126,"C":0.128,"v":0.127},{"c":0.128,"C":0.13,"v":0.129},{"c":0.13,"C":0.132,"v":0.131},{"c":0.132,"C":0.134,"v":0.133},{"c":0.134,"C":0.136,"v":0.135},{"c":0.136,"C":0.138,"v":0.137},{"c":0.138,"C":0.14,"v":0.139},{"c":0.14,"C":0.142,"v":0.141},{"c":0.142,"C":0.144,"v":0.143},{"c":0.144,"C":0.146,"v":0.145},{"c":0.146,"C":0.148,"v":0.147},{"c":0.148,"C":0.15,"v":0.149},{"c":0.15,"C":0.152,"v":0.151},{"c":0.152,"C":0.154,"v":0.153},{"c":0.154,"C":0.156,"v":0.155},{"c":0.156,"C":0.158,"v":0.157},{"c":0.158,"C":0.16,"v":0.159},{"c":0.16,"C":0.162,"v":0.161},{"c":0.162,"C":0.164,"v":0.163},{"c":0.164,"C":0.166,"v":0.165}]},"mark":{"type":"rect","strokeWidth":0.6},"encoding":{"y":{"field":"c","type":"quantitative","scale":{"domain":[0,0.166],"nice":false},"axis":{"orient":"right","values":[0,0.02,0.04,0.06,0.08,0.1,0.12,0.14,0.16],"format":".2f","tickSize":12,"tickWidth":2,"tickColor":"#262626","labelPadding":5,"title":null}},"y2":{"field":"C"},"color":{"field":"v","type":"quantitative","legend":null},"stroke":{"field":"v","type":"quantitative","legend":null}}},{"data":{"values":[{"c":0,"C":0.166}]},"mark":{"type":"rect","filled":false,"stroke":"#262626","strokeWidth":2},"encoding":{"y":{"field":"c","type":"quantitative"},"y2":{"field":"C"}}}]}]}
